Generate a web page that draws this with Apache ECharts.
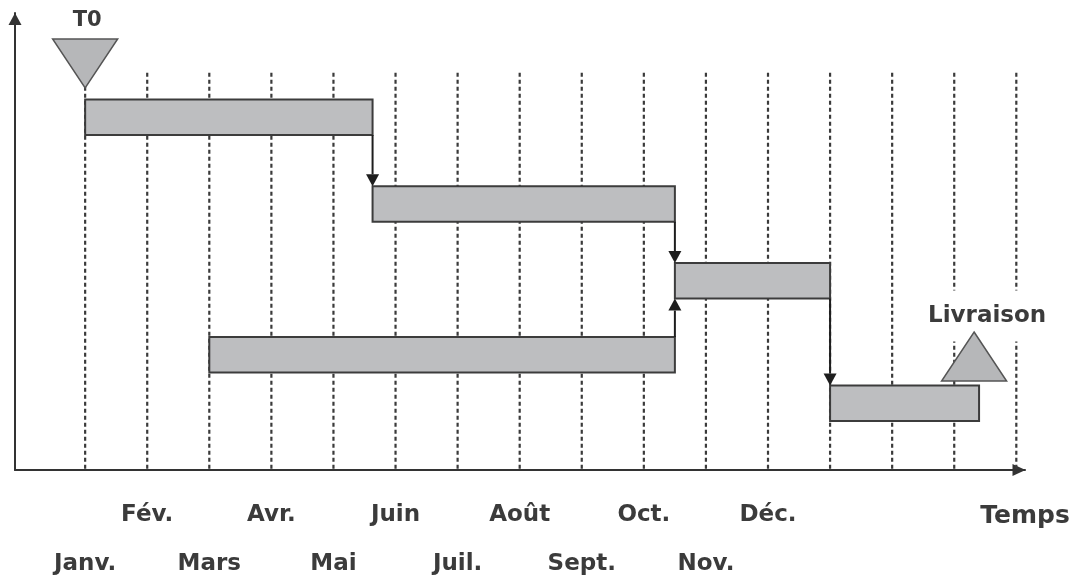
<!DOCTYPE html>
<html>
<head>
<meta charset="utf-8">
<script src="https://cdn.jsdelivr.net/npm/echarts@6/dist/echarts.min.js"></script>
<style>
  html, body { margin: 0; padding: 0; background: #fff; }
  #chart { width: 1079px; height: 578px; }
</style>
</head>
<body>
<div id="chart"></div>
<script>
// Month names along the time axis (index = month position)
const months = ['Janv.', 'Fév.', 'Mars', 'Avr.', 'Mai', 'Juin', 'Juil.', 'Août', 'Sept.', 'Oct.', 'Nov.', 'Déc.'];

// Dotted month guides (month positions) and the height they reach
const guideMonths = [0, 1, 2, 3, 4, 5, 6, 7, 8, 9, 10, 11, 12, 13, 14, 15];
const guideTop = 86.9;

// Tasks: start month, end month, vertical level
const taskStart = [0, 4.63, 9.5, 2, 12];
const taskEnd   = [4.63, 9.5, 12, 9.5, 14.4];
const taskLevel = [77.2, 58.2, 41.4, 25.2, 14.6];

// Dependencies: predecessor task -> successor task
const linkFrom = [0, 1, 3, 2];
const linkTo   = [1, 2, 2, 4];

// Milestones
const milestoneNames = ['T0', 'Livraison'];
const milestoneX     = [0, 14.32];
const milestoneY     = [83.6, 30.2];
const milestoneDir   = ['down', 'up'];

const TEXT_COLOR = '#3b3b3b';
const FONT = 'DejaVu Sans';
const BAR_H = 35.5;

const chart = echarts.init(document.getElementById('chart'), null, { renderer: 'canvas' });

const taskData = taskStart.map((s, i) => [s, taskEnd[i], taskLevel[i]]);
const linkData = linkFrom.map((f, i) => [taskEnd[f], taskLevel[f], taskLevel[linkTo[i]]]);
const milestoneData = milestoneNames.map((n, i) => [milestoneX[i], milestoneY[i], i]);

chart.setOption({
  animation: false,
  backgroundColor: '#fff',
  grid: { left: 15, right: 54, top: 13, bottom: 108, containLabel: false, outerBoundsMode: 'none' },
  xAxis: {
    type: 'value',
    min: -1.13,
    max: 15.14,
    axisLine: {
      show: true, onZero: false,
      symbol: ['none', 'triangle'], symbolSize: [12, 13], symbolOffset: [0, -6],
      lineStyle: { color: '#333', width: 2 }
    },
    axisTick: { show: false },
    splitLine: { show: false },
    axisLabel: {
      customValues: months.map((m, i) => i),
      margin: 0,
      hideOverlap: false,
      formatter: function (v) {
        const i = Math.round(v);
        return (i % 2 ? '{up|' : '{down|') + months[i] + '}';
      },
      rich: {
        up:   { lineHeight: 90,  fontSize: 23, fontWeight: 'bold', fontFamily: FONT, color: TEXT_COLOR },
        down: { lineHeight: 188, fontSize: 23, fontWeight: 'bold', fontFamily: FONT, color: TEXT_COLOR }
      }
    },
    name: 'Temps',
    nameLocation: 'end',
    nameGap: 0,
    nameTextStyle: {
      align: 'center', verticalAlign: 'top', padding: [34, 0, 0, 0],
      fontSize: 25, fontWeight: 'bold', fontFamily: FONT, color: TEXT_COLOR
    }
  },
  yAxis: {
    type: 'value',
    min: 0,
    max: 100,
    axisLine: {
      show: true, onZero: false,
      symbol: ['none', 'triangle'], symbolSize: [13, 12], symbolOffset: [0, -6],
      lineStyle: { color: '#333', width: 2 }
    },
    axisTick: { show: false },
    axisLabel: { show: false },
    splitLine: { show: false }
  },
  series: [
    {
      // dotted month guides
      type: 'custom',
      z: 1,
      data: guideMonths.map(m => [m, guideTop]),
      renderItem: function (params, api) {
        const top = api.coord([api.value(0), api.value(1)]);
        const bot = api.coord([api.value(0), 0]);
        return {
          type: 'line',
          shape: { x1: top[0], y1: top[1], x2: bot[0], y2: bot[1] },
          style: { stroke: '#3a3a3a', lineWidth: 2.2, lineDash: [4, 3] }
        };
      }
    },
    {
      // task bars
      type: 'custom',
      z: 2,
      data: taskData,
      renderItem: function (params, api) {
        const a = api.coord([api.value(0), api.value(2)]);
        const b = api.coord([api.value(1), api.value(2)]);
        return {
          type: 'rect',
          shape: { x: a[0], y: a[1] - BAR_H / 2, width: b[0] - a[0], height: BAR_H },
          style: { fill: '#bdbec0', stroke: '#3c3c3c', lineWidth: 2 }
        };
      }
    },
    {
      // dependency arrows
      type: 'custom',
      z: 3,
      data: linkData,
      renderItem: function (params, api) {
        const p = api.coord([api.value(0), api.value(1)]);
        const q = api.coord([api.value(0), api.value(2)]);
        const dir = q[1] > p[1] ? 1 : -1;
        const x = p[0];
        const y0 = p[1] + dir * BAR_H / 2;
        const y1 = q[1] - dir * BAR_H / 2;
        const ah = 12, aw = 6.5;
        return {
          type: 'group',
          children: [
            {
              type: 'line',
              shape: { x1: x, y1: y0, x2: x, y2: y1 - dir * ah },
              style: { stroke: '#1e1e1e', lineWidth: 2 }
            },
            {
              type: 'polygon',
              shape: { points: [[x - aw, y1 - dir * ah], [x + aw, y1 - dir * ah], [x, y1]] },
              style: { fill: '#1e1e1e' }
            }
          ]
        };
      }
    },
    {
      // milestones
      type: 'custom',
      z: 4,
      data: milestoneData,
      renderItem: function (params, api) {
        const p = api.coord([api.value(0), api.value(1)]);
        const i = api.value(2);
        const w = 65, h = 49;
        const down = milestoneDir[i] === 'down';
        const pts = down
          ? [[p[0] - w / 2, p[1] - h], [p[0] + w / 2, p[1] - h], [p[0], p[1]]]
          : [[p[0], p[1]], [p[0] + w / 2, p[1] + h], [p[0] - w / 2, p[1] + h]];
        const label = down
          ? { x: p[0] + 2, y: p[1] - h - 18, size: 21, pad: [0, 0, 0, 0] }
          : { x: p[0] + 13, y: p[1] - 16, size: 23, pad: [12, 4, 16, 4] };
        return {
          type: 'group',
          children: [
            {
              type: 'text',
              style: {
                text: milestoneNames[i],
                x: label.x, y: label.y,
                align: 'center', verticalAlign: 'middle',
                fontSize: label.size, fontWeight: 'bold', fontFamily: FONT,
                fill: TEXT_COLOR,
                backgroundColor: '#fff',
                padding: label.pad
              }
            },
            {
              type: 'polygon',
              shape: { points: pts },
              style: { fill: '#b6b7b9', stroke: '#555', lineWidth: 1.5 }
            }
          ]
        };
      }
    }
  ]
});
</script>
</body>
</html>
